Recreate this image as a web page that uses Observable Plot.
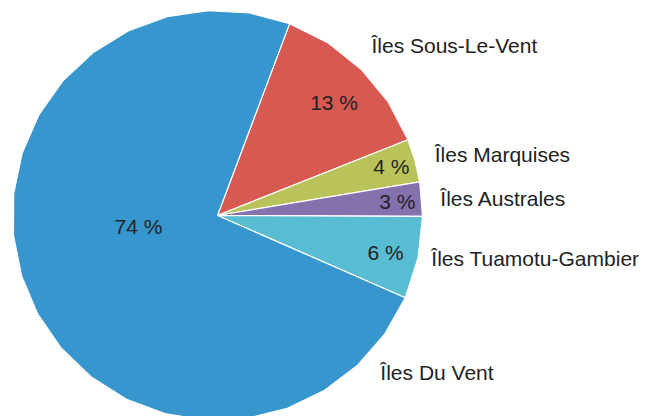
<!DOCTYPE html>
<html><head><meta charset="utf-8">
<script src="https://cdn.jsdelivr.net/npm/d3@7"></script>
<script src="https://cdn.jsdelivr.net/npm/@observablehq/plot@0.6"></script>
<style>body{margin:0;background:#fff}</style>
</head><body><div id="chart"></div>
<script>
// ---- data ----
const archipelagos = ["Îles Sous-Le-Vent", "Îles Marquises", "Îles Australes", "Îles Tuamotu-Gambier", "Îles Du Vent"];
const shares = [13.25, 3.4, 2.7, 6.5, 74.15];
const shareLabels = ["13 %", "4 %", "3 %", "6 %", "74 %"];
const sliceColors = ["#d85852", "#bac35a", "#8571ae", "#58bdd2", "#3696cd"];

// ---- layout ----
const startAngle = 20.6;   // degrees, clockwise from north
const segDeg = 12;         // arc polygon step
const innerRadius = [0.79, 0.88, 0.88, 0.84, 0.39];
const innerShift = [1.6, 0, 0.3, 0.6, 14.5];
const outerRadius = [1.115, 1.10, 1.09, 1.065, 1.105];
const outerShift = [-2.1, 0, 0.4, -0.3, -113.1];

const total = d3.sum(shares);
let acc = startAngle;
const slices = archipelagos.map((name, i) => {
  const a0 = acc, a1 = acc + shares[i] / total * 360;
  acc = a1;
  return {name, i, a0, a1, mid: (a0 + a1) / 2};
});
const rad = d => d * Math.PI / 180;
const pts = slices.flatMap(s => {
  const n = Math.max(1, Math.ceil((s.a1 - s.a0) / segDeg));
  const arr = [{name: s.name, x: 0, y: 0}];
  for (let k = 0; k <= n; k++) {
    const a = s.a0 + (s.a1 - s.a0) * k / n;
    arr.push({name: s.name, x: Math.sin(rad(a)), y: Math.cos(rad(a))});
  }
  return arr;
});
const inner = slices.map(s => {
  const a = rad(s.mid + innerShift[s.i]), r = innerRadius[s.i];
  return {x: r * Math.sin(a), y: r * Math.cos(a), text: shareLabels[s.i]};
});
const outer = slices.map(s => {
  const a = rad(s.mid + outerShift[s.i]), r = outerRadius[s.i];
  return {x: r * Math.sin(a), y: r * Math.cos(a), text: s.name};
});

const font = "'Liberation Sans', Helvetica, Arial, sans-serif";
const chart = Plot.plot({
  width: 646,
  height: 416,
  margin: 0,
  x: {domain: [-1, 1], range: [12, 422], axis: null},
  y: {domain: [-1, 1], range: [420, 10], axis: null},
  color: {domain: archipelagos, range: sliceColors},
  style: {fontFamily: font, background: "#fff"},
  marks: [
    Plot.line(pts, {x: "x", y: "y", z: "name", fill: "name", stroke: "white", strokeWidth: 1.2, curve: "linear-closed"}),
    Plot.text(inner, {x: "x", y: "y", text: "text", fontSize: 21, fill: "#222"}),
    Plot.text(outer, {x: "x", y: "y", text: "text", textAnchor: "start", fontSize: 21, fill: "#222"})
  ]
});
document.getElementById("chart").appendChild(chart);
</script>
</body></html>
